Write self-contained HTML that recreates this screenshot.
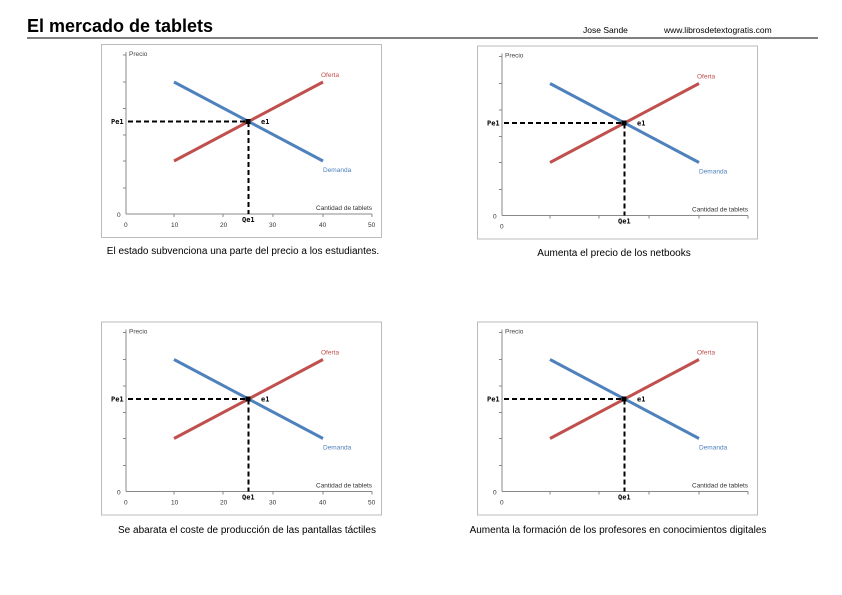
<!DOCTYPE html>
<html><head><meta charset="utf-8"><style>
body{margin:0;background:#fff;width:842px;height:595px;overflow:hidden}
svg{display:block}
text{font-family:"Liberation Sans",sans-serif}
text.m{font-family:"DejaVu Sans Mono",monospace}
</style></head><body>
<svg width="842" height="595" viewBox="0 0 842 595">
<defs>
<g id="base">
  <rect x="101.5" y="44.5" width="280" height="193" fill="#fff" stroke="#bbb" stroke-width="1"/>
  <line x1="126" y1="52" x2="126" y2="214" stroke="#888" stroke-width="1"/>
  <line x1="126" y1="214" x2="372" y2="214" stroke="#888" stroke-width="1"/>
  <g stroke="#888" stroke-width="1">
    <line x1="123" y1="55" x2="126" y2="55"/><line x1="123" y1="82" x2="126" y2="82"/>
    <line x1="123" y1="108.5" x2="126" y2="108.5"/><line x1="123" y1="135" x2="126" y2="135"/>
    <line x1="123" y1="161" x2="126" y2="161"/><line x1="123" y1="188" x2="126" y2="188"/>
    <line x1="174" y1="214" x2="174" y2="217"/><line x1="223" y1="214" x2="223" y2="217"/>
    <line x1="273" y1="214" x2="273" y2="217"/><line x1="323" y1="214" x2="323" y2="217"/>
    <line x1="372" y1="214" x2="372" y2="217"/>
  </g>
  <line x1="174" y1="161" x2="323" y2="82" stroke="#c0504d" stroke-width="3"/>
  <line x1="174" y1="82" x2="323" y2="161" stroke="#4f81bd" stroke-width="3"/>
  <line x1="128" y1="121.5" x2="248" y2="121.5" stroke="#000" stroke-width="2" stroke-dasharray="5,3"/>
  <line x1="248.5" y1="122" x2="248.5" y2="214" stroke="#000" stroke-width="2" stroke-dasharray="5,3"/>
  <rect x="245.5" y="119" width="5" height="5" fill="#000"/>
  <text x="129" y="56" font-size="6.5" fill="#444">Precio</text>
  <text x="321" y="77" font-size="6.5" fill="#c0504d">Oferta</text>
  <text x="323" y="172" font-size="6.5" fill="#4f81bd">Demanda</text>
  <text x="316" y="210" font-size="6.5" fill="#333">Cantidad de tablets</text>
  <text class="m" x="111" y="124" font-size="7" font-weight="bold">Pe1</text>
  <text class="m" x="261" y="124" font-size="7" font-weight="bold">e1</text>
  <text class="m" x="242" y="222" font-size="7" font-weight="bold">Qe1</text>
  <text x="117" y="217" font-size="6.5" fill="#333">0</text>
  <text x="124" y="227" font-size="6.5" fill="#333">0</text>
</g>
<g id="nums">
  <text x="171" y="227" font-size="6.5" fill="#333">10</text>
  <text x="220" y="227" font-size="6.5" fill="#333">20</text>
  <text x="269" y="227" font-size="6.5" fill="#333">30</text>
  <text x="319" y="227" font-size="6.5" fill="#333">40</text>
  <text x="368" y="227" font-size="6.5" fill="#333">50</text>
</g>
</defs>
<text x="27" y="32" font-size="18" font-weight="bold">El mercado de tablets</text>
<text x="583" y="33" font-size="8.5">Jose Sande</text>
<text x="664" y="33" font-size="8.5">www.librosdetextogratis.com</text>
<line x1="27" y1="38" x2="818" y2="38" stroke="#000" stroke-width="1"/>

<use href="#base"/><use href="#nums"/>
<g transform="translate(376,1.5)"><use href="#base"/></g>
<g transform="translate(0,277.5)"><use href="#base"/><use href="#nums"/></g>
<g transform="translate(376,277.5)"><use href="#base"/></g>

<text x="243" y="254" font-size="10" text-anchor="middle">El estado subvenciona una parte del precio a los estudiantes.</text>
<text x="614" y="256" font-size="10" text-anchor="middle">Aumenta el precio de los netbooks</text>
<text x="247" y="533" font-size="10" text-anchor="middle">Se abarata el coste de producción de las pantallas táctiles</text>
<text x="618" y="533" font-size="10" text-anchor="middle">Aumenta la formación de los profesores en conocimientos digitales</text>
</svg>
</body></html>
